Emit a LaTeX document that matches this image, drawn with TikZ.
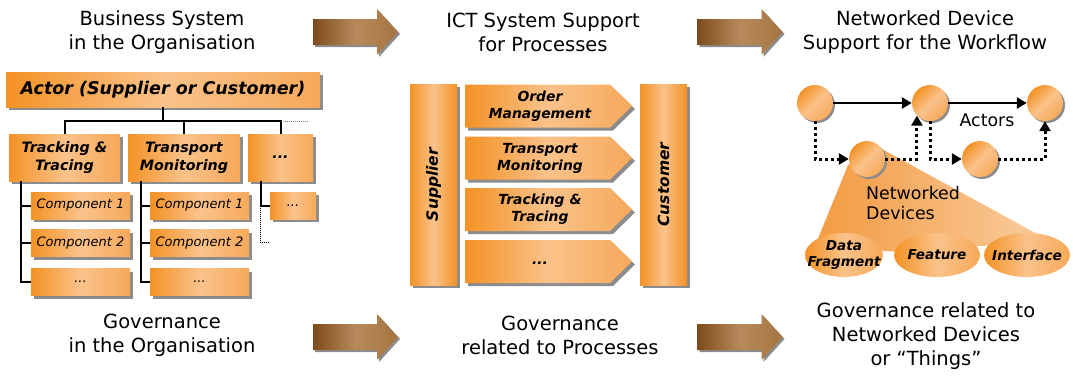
\documentclass[tikz,border=0pt]{standalone}
\usepackage{fontspec}
\setmainfont{DejaVu Sans}
\usetikzlibrary{shapes.geometric,shadows,arrows.meta}
\definecolor{boxdark}{HTML}{F39225}
\definecolor{boxlight}{HTML}{FAC28A}
\definecolor{boxmid}{HTML}{F6A95A}
\definecolor{shadowgray}{HTML}{8C8C8C}
\definecolor{browndark}{HTML}{7E4B1C}
\definecolor{brownlight}{HTML}{B88A5B}
\definecolor{brownmid}{HTML}{A5743F}
\definecolor{conedark}{HTML}{F39A40}
\definecolor{conelight}{HTML}{F9CDA0}
\tikzset{
  heading/.style={align=center, inner sep=0pt, font=\fontsize{19.5}{24}\selectfont},
  orangefill/.style={left color=boxdark, right color=boxmid, middle color=boxlight},
  boxshadow/.style={drop shadow={shadow xshift=3pt, shadow yshift=-3pt, fill=shadowgray, opacity=1}},
  orangebox/.style={rectangle, boxshadow, orangefill, inner sep=0pt, align=center},
  actorbox/.style={orangebox, minimum width=314pt, minimum height=35pt,
    font=\fontsize{17.5}{21}\selectfont\bfseries\itshape},
  groupbox/.style={orangebox, minimum height=47pt,
    font=\fontsize{14.3}{18}\selectfont\bfseries\itshape},
  partbox/.style={orangebox, minimum width=99pt, minimum height=27pt,
    font=\fontsize{13}{16}\selectfont\itshape},
  processfill/.style={boxshadow, orangefill},
  processtext/.style={inner sep=0pt, align=center,
    font=\fontsize{13.9}{17}\selectfont\bfseries\itshape},
  sidebar/.style={orangebox, minimum width=47pt, minimum height=201pt,
    left color=boxdark, right color=boxdark, middle color=boxlight},
  sidetext/.style={rotate=90, inner sep=0pt, font=\fontsize{15.5}{19}\selectfont\bfseries\itshape},
  brownarrow/.style={drop shadow={shadow xshift=2pt, shadow yshift=-2pt, fill=shadowgray, opacity=1},
    left color=browndark, right color=brownmid, middle color=brownlight},
  tree/.style={line width=2pt},
  device/.style={circle, minimum size=36pt, inner sep=0pt,
    drop shadow={shadow xshift=2pt, shadow yshift=-2pt, fill=shadowgray, opacity=1},
    orangefill, shading angle=45},
  feature/.style={ellipse, minimum height=44pt, inner sep=0pt, orangefill},
  featuretext/.style={inner sep=0pt, align=center,
    font=\fontsize{13.6}{16}\selectfont\bfseries\itshape},
  flow/.style={line width=2.5pt, -{Triangle[length=10pt,width=11pt]}},
  dotflow/.style={line width=3pt, dash pattern=on 3pt off 3pt, -{Triangle[length=10pt,width=11pt]}},
  plain/.style={inner sep=0pt, align=left, font=\fontsize{17.4}{20}\selectfont}
}

\begin{document}
\begin{tikzpicture}[x=1pt, y=-1pt]
\useasboundingbox (0,0) rectangle (1073,375);

% headings
\node[heading] (hbiz) at (162,32) {Business System\\in the Organisation};
\node[heading] (hict) at (543,32) {ICT System Support\\for Processes};
\node[heading] (hdev) at (925,32) {Networked Device\\Support for the Workflow};
\node[heading] (gbiz) at (162,335) {Governance\\in the Organisation};
\node[heading] (gproc) at (560,335) {Governance\\related to Processes};
\node[heading] (gdev) at (926,336) {Governance related to\\Networked Devices\\or “Things”};

\foreach \x/\y in {355.5/32, 740/32, 355.5/337, 740/337}
  \path[brownarrow, shift={(\x,\y)}] (-42.5,-13) -- (21.5,-13) -- (21.5,-23) -- (42.5,0)
    -- (21.5,23) -- (21.5,13) -- (-42.5,13) -- cycle;

% organisation tree
\node[actorbox] (actor) at (163,89.5) {Actor (Supplier or Customer)};
\node[groupbox, minimum width=111pt] (tt) at (64.5,157.5) {Tracking \&\\Tracing};
\node[groupbox, minimum width=112pt] (tm) at (184,157.5) {Transport\\Monitoring};
\node[groupbox, minimum width=65pt] (more) at (280.5,157.5) {...};

\node[partbox] (tt1) at (80.5,205.5) {Component 1};
\node[partbox] (tt2) at (80.5,243) {Component 2};
\node[partbox] (tt3) at (80.5,282) {...};
\node[partbox] (tm1) at (199.5,205.5) {Component 1};
\node[partbox] (tm2) at (199.5,243) {Component 2};
\node[partbox] (tm3) at (199.5,282) {...};
\node[partbox, minimum width=46pt] (more1) at (293,205.5) {...};

\coordinate (bus) at (163,121);
\draw[tree] (actor.south) -- (bus);
\draw[tree] (tt.north) |- (bus) -| (tm.north);
\draw[tree] (bus) -| (more.north);
\draw[line width=1pt, densely dotted, gray] (more.north |- bus) -- ++(27,0);

\coordinate (spinea) at ([xshift=12pt]tt.south west);
\coordinate (spineb) at ([xshift=13pt]tm.south west);
\coordinate (spinec) at ([xshift=13pt]more.south west);
\draw[tree] (spinea) |- (tt3.west);
\draw[tree] (tt1.west) -- (tt1.west -| spinea);
\draw[tree] (tt2.west) -- (tt2.west -| spinea);
\draw[tree] (spineb) |- (tm3.west);
\draw[tree] (tm1.west) -- (tm1.west -| spineb);
\draw[tree] (tm2.west) -- (tm2.west -| spineb);
\draw[tree] (spinec) |- (more1.west);
\draw[line width=1pt, densely dotted] (more1.west -| spinec) -- ++(0,37) -- ++(9,0);

% processes
\node[sidebar] (supplier) at (433.5,184.5) {};
\node[sidetext] (suppliertext) at (supplier) {Supplier};
\node[sidebar] (customer) at (663.5,184.5) {};
\node[sidetext] (customertext) at (customer) {Customer};

\foreach \y in {106,158,209.5,261.5}
  \path[processfill] (465,\y-21.5) -- (610,\y-21.5) -- (632,\y) -- (610,\y+21.5)
    -- (465,\y+21.5) -- cycle;
\node[processtext] (order) at (540,106) {Order\\Management};
\node[processtext] (transport) at (540,158) {Transport\\Monitoring};
\node[processtext] (tracking) at (540,209.5) {Tracking \&\\Tracing};
\node[processtext] (further) at (540,263) {...};

% networked devices
\path[left color=conedark, right color=conelight]
  (848,165) -- (815,246) -- (900,252) -- (1050,241) -- (880,148) -- cycle;

\node[device] (d1) at (815,103) {};
\node[device] (d2) at (930,103) {};
\node[device] (d3) at (1045,103) {};
\node[device] (d4) at (867,159) {};
\node[device] (d5) at (980,159) {};

\draw[flow] (d1) -- (d2);
\draw[flow] (d2) -- (d3);
\draw[dotflow] (d1.south) |- (d4.west);
\draw[dotflow] (d4.east) -| (d2.224);
\draw[dotflow] (d2.south) |- (d5.west);
\draw[dotflow] (d5.east) -| (d3.south);

\node[plain] (actors) at (987,120) {Actors};
\node[plain, anchor=west] (devices) at (866,203) {Networked\\Devices};

\node[feature, minimum width=78pt] (fragment) at (844,255) {};
\node[feature, minimum width=86pt] (featurenode) at (937,255) {};
\node[feature, minimum width=86pt] (interface) at (1027,255) {};
\node[featuretext] (fragmenttext) at (fragment) {Data\\Fragment};
\node[featuretext] (featuretext) at (featurenode) {Feature};
\node[featuretext] (interfacetext) at (interface) {Interface};

\end{tikzpicture}
\end{document}
